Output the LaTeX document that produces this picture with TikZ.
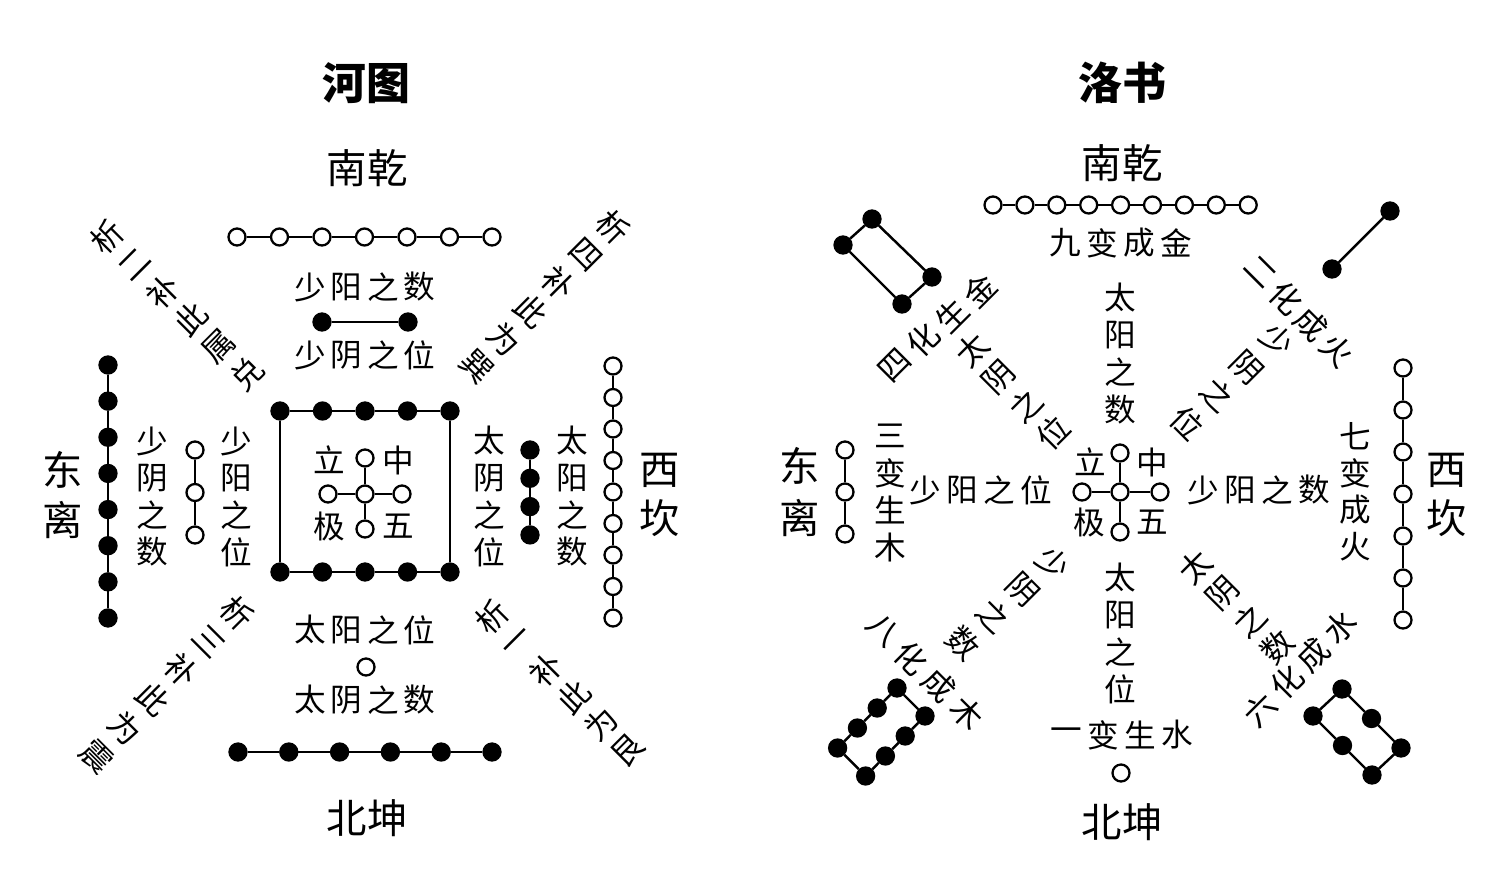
\documentclass[tikz,border=0pt]{standalone}
\usepackage{fontspec}
\newfontfamily\cjk{Noto Sans CJK SC}
\tikzset{
  yang/.style={circle, draw, fill=white, line width=1.3pt, minimum size=0.34cm, inner sep=0pt},
  yin/.style={circle, draw, fill=black, line width=1.3pt, minimum size=0.34cm, inner sep=0pt},
  link/.style={line width=1.4pt},
  word/.style={font=\cjk\fontsize{18}{18}\selectfont, inner sep=0pt},
  quarter/.style={font=\cjk\fontsize{23}{23}\selectfont, inner sep=0pt},
  headline/.style={font=\cjk\bfseries\fontsize{25}{25}\selectfont, inner sep=0pt},
}
% characters one by one: [style]{name}{x}{y}{dx}{dy}{angle}{list}
\newcommand{\wordline}[8][word]{%
  \foreach \ch [count=\k, evaluate=\k as \f using \k-1] in {#8}
    \node[#1, rotate=#7] (#2\k) at ({#3+\f*(#5)},{#4+\f*(#6)}) {\ch};
}
\begin{document}
\begin{tikzpicture}[x=0.02cm, y=-0.02cm]
    \useasboundingbox (0,0) rectangle (1500,872);

    % Hetu
    \node[headline] (hetu) at (366,83) {河图};
    \node[quarter] (hsouth) at (367,168) {南乾};
    \node[quarter] (hnorth) at (367,818) {北坤};
    \wordline[quarter]{hwest}{63}{470}{0}{50}{0}{东,离}
    \wordline[quarter]{heast}{660}{470}{0}{48}{0}{西,坎}

    % south: seven and two
    \foreach \k in {1,...,7} \node[yang] (hs\k) at ({237+42.5*(\k-1)},237) {};
    \foreach \k [count=\j from 2] in {1,...,6} \draw[link] (hs\k) -- (hs\j);
    \wordline{hsa}{310}{287}{36.5}{0}{0}{少,阳,之,数}
    \node[yin] (hy1) at (322,322) {};
    \node[yin] (hy2) at (408,322) {};
    \draw[link] (hy1) -- (hy2);
    \wordline{hsb}{310}{355}{36.5}{0}{0}{少,阴,之,位}

    % centre: five and ten
    \foreach \k in {1,...,5} {
        \node[yin] (ht\k) at ({280+42.5*(\k-1)},411) {};
        \node[yin] (hb\k) at ({280+42.5*(\k-1)},572) {};
    }
    \foreach \k [count=\j from 2] in {1,...,4} {
        \draw[link] (ht\k) -- (ht\j);
        \draw[link] (hb\k) -- (hb\j);
    }
    \draw[link] (ht1) -- (hb1);
    \draw[link] (ht5) -- (hb5);
    \node[yang] (hc) at (365,494) {};
    \node[yang] (hcn) at (365,458) {};
    \node[yang] (hcs) at (365,529) {};
    \node[yang] (hcw) at (328,494) {};
    \node[yang] (hce) at (402,494) {};
    \foreach \n in {hcn,hcs,hcw,hce} \draw[link] (hc) -- (\n);
    \node[word] (hli) at (329,460) {立};
    \node[word] (hzh) at (398,460) {中};
    \node[word] (hji) at (329,526) {极};
    \node[word] (hwu) at (398,526) {五};

    % east: three and eight
    \wordline{hwa}{236}{441}{0}{37}{0}{少,阳,之,位}
    \foreach \k in {1,...,3} \node[yang] (hw\k) at (195,{450+42.5*(\k-1)}) {};
    \foreach \k [count=\j from 2] in {1,...,2} \draw[link] (hw\k) -- (hw\j);
    \wordline{hwb}{152}{441}{0}{37}{0}{少,阴,之,数}
    \foreach \k in {1,...,8} \node[yin] (hl\k) at (108,{365+36.14*(\k-1)}) {};
    \foreach \k [count=\j from 2] in {1,...,7} \draw[link] (hl\k) -- (hl\j);

    % west: four and nine
    \wordline{hea}{489}{441}{0}{37}{0}{太,阴,之,位}
    \foreach \k in {1,...,4} \node[yin] (he\k) at (530,{450+28.3*(\k-1)}) {};
    \foreach \k [count=\j from 2] in {1,...,3} \draw[link] (he\k) -- (he\j);
    \wordline{heb}{572}{441}{0}{37}{0}{太,阳,之,数}
    \foreach \k in {1,...,9} \node[yang] (hr\k) at (613,{366+31.5*(\k-1)}) {};
    \foreach \k [count=\j from 2] in {1,...,8} \draw[link] (hr\k) -- (hr\j);

    % north: one and six
    \wordline{hna}{310}{630}{36.5}{0}{0}{太,阳,之,位}
    \node[yang] (hone) at (366,667) {};
    \wordline{hnb}{310}{700}{36.5}{0}{0}{太,阴,之,数}
    \foreach \k in {1,...,6} \node[yin] (hn\k) at ({238+50.8*(\k-1)},752) {};
    \foreach \k [count=\j from 2] in {1,...,5} \draw[link] (hn\k) -- (hn\j);

    % diagonals
    \wordline{hda}{107}{237}{28}{27.3}{45}{析,二,补,此,属,兑}
    \wordline{hdb}{613}{227}{-27.2}{28}{-45}{析,四,补,此,为,巽}
    \wordline{hdc}{237}{613}{-28}{28.8}{-45}{析,三,补,此,为,震}
    \wordline{hdd}{492}{617}{27.2}{26.6}{45}{析,一,补,此,为,艮}

    % Luoshu
    \node[headline] (luoshu) at (1122,83) {洛书};
    \node[quarter] (lsouth) at (1122,163) {南乾};
    \node[quarter] (lnorth) at (1122,822) {北坤};
    \wordline[quarter]{lwest}{800}{466}{0}{52}{0}{东,离}
    \wordline[quarter]{least}{1447}{470}{0}{48}{0}{西,坎}

    % nine
    \foreach \k in {1,...,9} \node[yang] (ls\k) at ({993+31.9*(\k-1)},205) {};
    \foreach \k [count=\j from 2] in {1,...,8} \draw[link] (ls\k) -- (ls\j);
    \wordline{lsa}{1065}{243}{37}{0}{0}{九,变,成,金}
    \wordline{lsb}{1120}{298}{0}{37.3}{0}{太,阳,之,数}

    % centre
    \node[yang] (lc) at (1120,492) {};
    \node[yang] (lcn) at (1120,453) {};
    \node[yang] (lcs) at (1120,532) {};
    \node[yang] (lcw) at (1082,492) {};
    \node[yang] (lce) at (1160,492) {};
    \foreach \n in {lcn,lcs,lcw,lce} \draw[link] (lc) -- (\n);
    \node[word] (lli) at (1090,462) {立};
    \node[word] (lzh) at (1152,462) {中};
    \node[word] (lji) at (1089,522) {极};
    \node[word] (lwu) at (1152,522) {五};

    % three and seven
    \wordline{lwa}{925}{490}{37}{0}{0}{少,阳,之,位}
    \wordline{lwb}{890}{436}{0}{37}{0}{三,变,生,木}
    \foreach \k in {1,...,3} \node[yang] (lw\k) at (845,{450+42*(\k-1)}) {};
    \foreach \k [count=\j from 2] in {1,...,2} \draw[link] (lw\k) -- (lw\j);
    \wordline{lea}{1203}{490}{37}{0}{0}{少,阳,之,数}
    \wordline{leb}{1355}{436}{0}{37}{0}{七,变,成,火}
    \foreach \k in {1,...,7} \node[yang] (le\k) at (1403,{368+42*(\k-1)}) {};
    \foreach \k [count=\j from 2] in {1,...,6} \draw[link] (le\k) -- (le\j);

    % one
    \wordline{lna}{1120}{578}{0}{37}{0}{太,阳,之,位}
    \wordline{lnb}{1066}{735}{37}{0}{0}{一,变,生,水}
    \node[yang] (lone) at (1121,773) {};

    % corners
    \node[yin] (lf1) at (872,219) {};
    \node[yin] (lf2) at (932,277) {};
    \node[yin] (lg1) at (843,245) {};
    \node[yin] (lg2) at (902,304) {};
    \draw[link] (lf1) -- (lf2) -- (lg2) -- (lg1) -- (lf1);
    \node[yin] (lt1) at (1390,211) {};
    \node[yin] (lt2) at (1332,269) {};
    \draw[link] (lt1) -- (lt2);
    \foreach \k in {1,...,4} {
        \node[yin] (la\k) at ({897-19.8*(\k-1)},{688+20*(\k-1)}) {};
        \node[yin] (lb\k) at ({925-19.8*(\k-1)},{716+20*(\k-1)}) {};
    }
    \foreach \k [count=\j from 2] in {1,...,3} {
        \draw[link] (la\k) -- (la\j);
        \draw[link] (lb\k) -- (lb\j);
    }
    \draw[link] (la1) -- (lb1);
    \draw[link] (la4) -- (lb4);
    \foreach \k in {1,...,3} {
        \node[yin] (lp\k) at ({1342+29.5*(\k-1)},{689+29.5*(\k-1)}) {};
        \node[yin] (lq\k) at ({1313+29.5*(\k-1)},{716+29.5*(\k-1)}) {};
    }
    \foreach \k [count=\j from 2] in {1,...,2} {
        \draw[link] (lp\k) -- (lp\j);
        \draw[link] (lq\k) -- (lq\j);
    }
    \draw[link] (lp1) -- (lq1);
    \draw[link] (lp3) -- (lq3);

    % diagonals
    \wordline{lda}{895}{365}{28.3}{-25}{45}{四,化,生,金}
    \wordline{ldb}{972}{350}{27}{27.7}{45}{太,阴,之,位}
    \wordline{ldc}{1260}{272}{25.7}{26}{-45}{二,化,成,火}
    \wordline{ldd}{1277}{340}{-30}{27.7}{-45}{少,阴,之,位}
    \wordline{lde}{1053}{563}{-30}{26.7}{-45}{少,阴,之,数}
    \wordline{ldf}{883}{630}{28}{27.7}{-45}{八,化,成,木}
    \wordline{ldg}{1195}{567}{27.3}{26.7}{45}{太,阴,之,数}
    \wordline{ldh}{1260}{710}{26.7}{-27.7}{45}{六,化,成,水}
\end{tikzpicture}
\end{document}
